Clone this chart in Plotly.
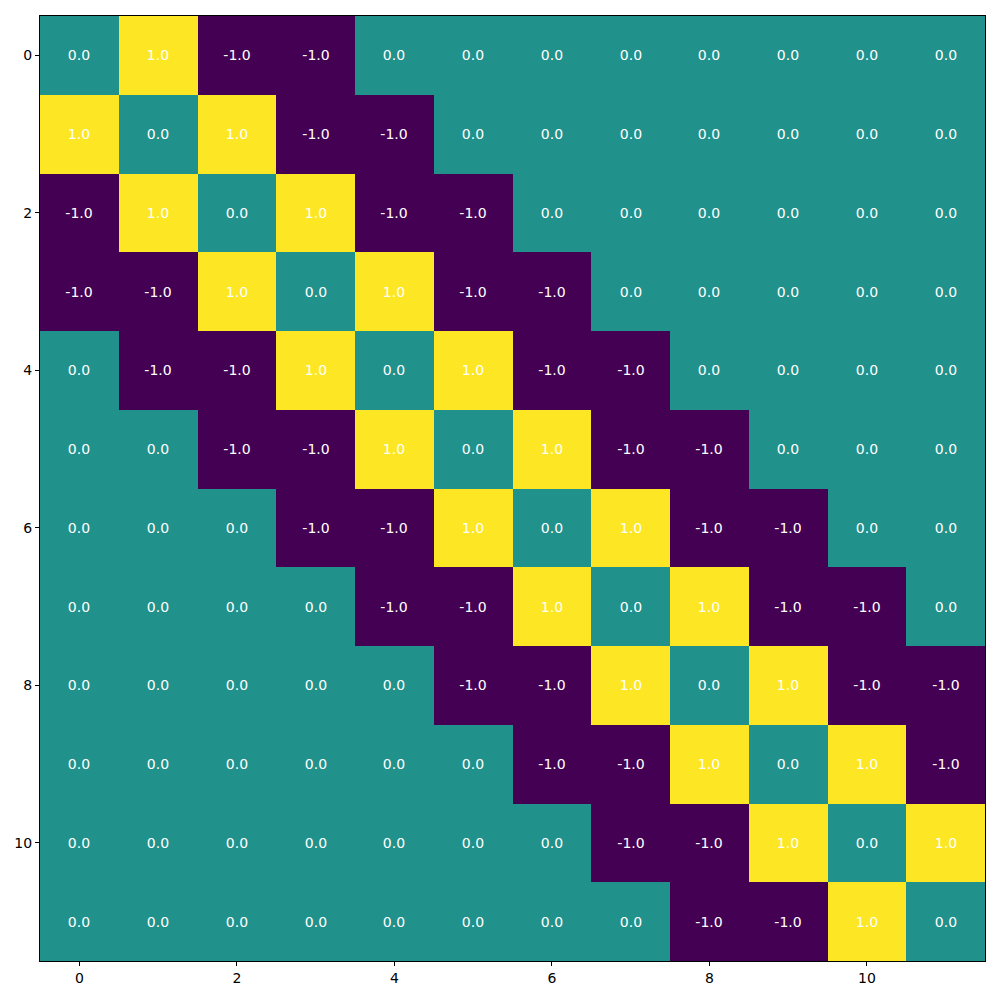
import plotly.graph_objects as go

rows = list(range(12))
cols = list(range(12))
z = [
    [0, 1, -1, -1, 0, 0, 0, 0, 0, 0, 0, 0],
    [1, 0, 1, -1, -1, 0, 0, 0, 0, 0, 0, 0],
    [-1, 1, 0, 1, -1, -1, 0, 0, 0, 0, 0, 0],
    [-1, -1, 1, 0, 1, -1, -1, 0, 0, 0, 0, 0],
    [0, -1, -1, 1, 0, 1, -1, -1, 0, 0, 0, 0],
    [0, 0, -1, -1, 1, 0, 1, -1, -1, 0, 0, 0],
    [0, 0, 0, -1, -1, 1, 0, 1, -1, -1, 0, 0],
    [0, 0, 0, 0, -1, -1, 1, 0, 1, -1, -1, 0],
    [0, 0, 0, 0, 0, -1, -1, 1, 0, 1, -1, -1],
    [0, 0, 0, 0, 0, 0, -1, -1, 1, 0, 1, -1],
    [0, 0, 0, 0, 0, 0, 0, -1, -1, 1, 0, 1],
    [0, 0, 0, 0, 0, 0, 0, 0, -1, -1, 1, 0],
]
tick_vals = [0, 2, 4, 6, 8, 10]

fig = go.Figure(go.Heatmap(
    z=z, x=cols, y=rows,
    colorscale=[[0, "#440154"], [0.5, "#21918c"], [1, "#fde725"]],
    zmin=-1, zmax=1, showscale=False,
    texttemplate="%{z:.1f}",
    textfont=dict(color="white", size=14, family="DejaVu Sans"),
    hoverinfo="skip",
))
axis_common = dict(
    showgrid=False, zeroline=False, showline=True, linecolor="black", linewidth=1,
    mirror=True, ticks="outside", ticklen=4, tickcolor="black",
    tickvals=tick_vals, tickfont=dict(size=14, family="DejaVu Sans", color="black"),
)
fig.update_layout(
    width=1000, height=1000,
    margin=dict(l=40, r=15, t=16, b=39),
    plot_bgcolor="white", paper_bgcolor="white",
    xaxis=dict(range=[-0.5, 11.5], **axis_common),
    yaxis=dict(range=[11.5, -0.5], **axis_common),
)
fig.write_html("out.html")
